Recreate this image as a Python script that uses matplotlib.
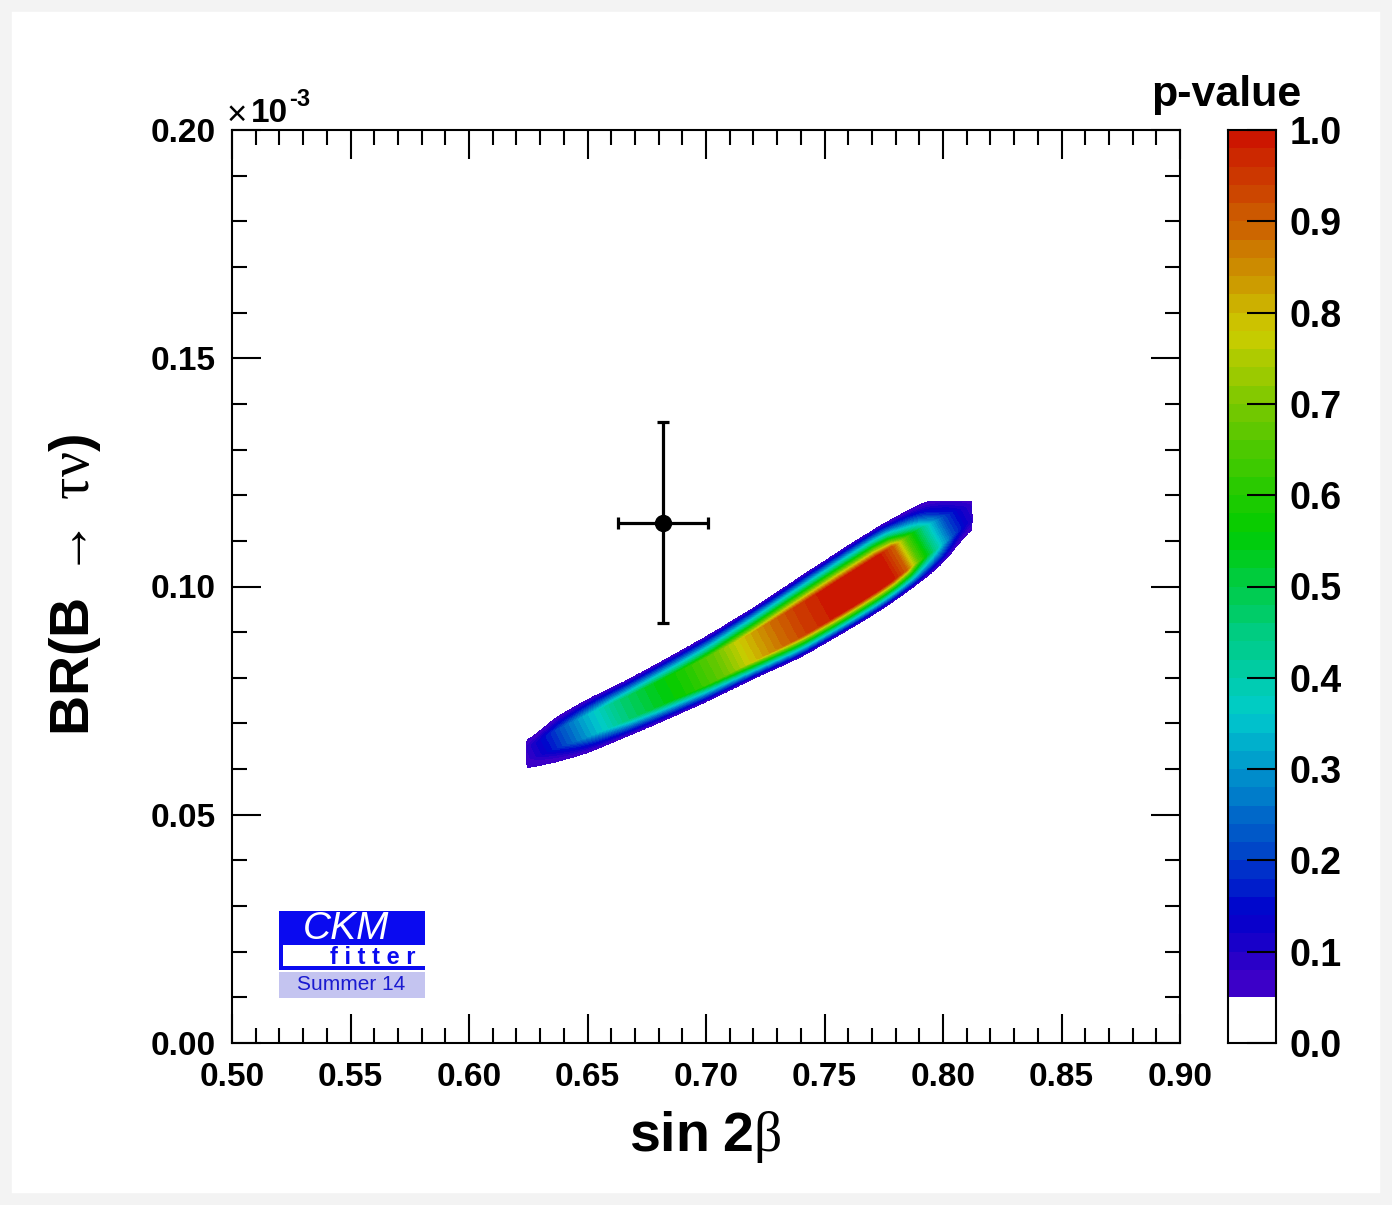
import numpy as np
import matplotlib
matplotlib.use("Agg")
import matplotlib.pyplot as plt
from matplotlib.colors import LinearSegmentedColormap
from matplotlib.ticker import MultipleLocator, FormatStrFormatter
from matplotlib.patches import Rectangle

plt.rcParams["font.family"] = ["Liberation Sans", "DejaVu Sans"]
plt.rcParams["mathtext.fontset"] = "custom"
plt.rcParams["mathtext.rm"] = "Liberation Serif"
plt.rcParams["mathtext.it"] = "Liberation Serif:italic"
plt.rcParams["mathtext.bf"] = "Liberation Sans:bold"
plt.rcParams["mathtext.sf"] = "Liberation Sans"

# ---- measurement (sin 2beta, BR in units of 1e-3) ----
meas_x, meas_xerr = 0.682, 0.019
meas_y, meas_yerr = 0.114, 0.022

# ---- fit band: edges of the p = 0.05 region, ridge line, ridge p-value ----
band_x     = [0.625, 0.635, 0.650, 0.665, 0.680, 0.700, 0.720, 0.740, 0.760, 0.775, 0.790, 0.800, 0.813]
band_upper = [0.0660, 0.0708, 0.0753, 0.0790, 0.0832, 0.0890, 0.0953, 0.1022, 0.1090, 0.1138, 0.1180, 0.1198, 0.1205]
band_lower = [0.0602, 0.0613, 0.0635, 0.0668, 0.0701, 0.0747, 0.0798, 0.0845, 0.0905, 0.0952, 0.1008, 0.1050, 0.1135]
band_ridge = [0.0632, 0.0662, 0.0695, 0.0729, 0.0764, 0.0810, 0.0863, 0.0920, 0.0982, 0.1032, 0.1090, 0.1122, 0.1167]

ridge_x = [0.625, 0.635, 0.643, 0.650, 0.657, 0.664, 0.678, 0.692, 0.706, 0.718, 0.730,
           0.740, 0.750, 0.760, 0.768, 0.776, 0.782, 0.787, 0.792, 0.797, 0.802, 0.808, 0.813]
ridge_p = [0.08, 0.17, 0.25, 0.32, 0.38, 0.45, 0.53, 0.59, 0.68, 0.79, 0.88,
           0.94, 0.98, 1.00, 1.00, 1.00, 0.90, 0.66, 0.50, 0.35, 0.22, 0.13, 0.08]
plateau = 0.40
fall_power = 1.15
tilt = 0.8          # iso-p lines lean across the band

# scan range of the fit
scan_x = (0.6245, 0.8122)
scan_y = (0.0600, 0.1187)

# ---- axes, ticks, palette ----
x_ticks = [0.50, 0.55, 0.60, 0.65, 0.70, 0.75, 0.80, 0.85, 0.90]
y_ticks = [0.00, 0.05, 0.10, 0.15, 0.20]
cbar_ticks = [0.0, 0.1, 0.2, 0.3, 0.4, 0.5, 0.6, 0.7, 0.8, 0.9, 1.0]
p_levels = [0.05, 0.08] + [round(0.10 + 0.02 * i, 2) for i in range(46)]
palette_pos = [0.05, 0.10, 0.14, 0.22, 0.30, 0.36, 0.45, 0.56, 0.68, 0.78, 0.88, 1.00]
palette_hex = ["#4800C8", "#2000C8", "#0000CC", "#0050C8", "#0096CC", "#00CCCC",
               "#00CC80", "#00CC00", "#66C800", "#CCCC00", "#CC7000", "#CC1000"]

W, H = 1392, 1205


def box(l, t, r, b):
    return [l / W, 1 - b / H, (r - l) / W, (b - t) / H]


def smooth(v, n):
    """Gaussian running mean along a 1-D profile (edge values held)."""
    k = np.exp(-0.5 * (np.arange(-3 * n, 3 * n + 1) / n) ** 2)
    k /= k.sum()
    vp = np.pad(v, 3 * n, mode="edge")
    return np.convolve(vp, k, mode="valid")


pal = LinearSegmentedColormap.from_list(
    "pval", [((p - palette_pos[0]) / (palette_pos[-1] - palette_pos[0]), c)
             for p, c in zip(palette_pos, palette_hex)])
mids = [(a + b) / 2 for a, b in zip(p_levels[:-1], p_levels[1:])]
band_colors = [pal((m - 0.05) / 0.95) for m in mids]

# ---- p-value field ----
xg = np.linspace(0.60, 0.84, 1000)
yg = np.linspace(0.04, 0.14, 1000)
up1 = smooth(np.interp(xg, band_x, band_upper), 14)
dn1 = smooth(np.interp(xg, band_x, band_lower), 14)
rc1 = smooth(np.interp(xg, band_x, band_ridge), 14)
X, Y = np.meshgrid(xg, yg)
up, dn, rc = up1[None, :], dn1[None, :], rc1[None, :]
# position along the band, measured across tilted iso-lines
S = X + tilt * (Y - rc)
rp = np.clip(np.interp(S, ridge_x, ridge_p), 0.051, 1.0)
u = np.where(Y >= rc, (Y - rc) / (up - rc), (rc - Y) / (rc - dn))
q = np.clip((u - plateau) / (1 - plateau), 0, None)
g = np.clip(1 - q, 0, None) ** fall_power
P = np.where(q < 1, 0.05 + (rp - 0.05) * g, 0.0)
inside = (X >= scan_x[0]) & (X <= scan_x[1]) & (Y >= scan_y[0]) & (Y <= scan_y[1])
P = np.where(inside, P, 0.0)

fig = plt.figure(figsize=(W / 100, H / 100), dpi=100)
fig.patch.set_facecolor("white")
fig.patches.append(Rectangle((0, 0), 1, 1, transform=fig.transFigure, fill=False,
                             edgecolor="#f3f3f3", lw=17, zorder=-5))

ax = fig.add_axes(box(232, 130, 1180, 1043))
levels_draw = list(p_levels)
levels_draw[0] = 0.0499
levels_draw[-1] = 1.0001
ax.contourf(X, Y, P, levels=levels_draw, colors=band_colors, antialiased=False)

ax.errorbar([meas_x], [meas_y], xerr=[meas_xerr], yerr=[meas_yerr], fmt="o",
            color="black", ms=11.5, lw=2.3, capsize=4, capthick=2.3, zorder=5)

ax.set_xlim(x_ticks[0], x_ticks[-1])
ax.set_ylim(y_ticks[0], y_ticks[-1])
ax.set_xticks(x_ticks)
ax.set_yticks(y_ticks)
ax.xaxis.set_minor_locator(MultipleLocator(0.01))
ax.yaxis.set_minor_locator(MultipleLocator(0.01))
ax.xaxis.set_major_formatter(FormatStrFormatter("%.2f"))
ax.yaxis.set_major_formatter(FormatStrFormatter("%.2f"))
ax.tick_params(which="both", direction="in", top=True, right=True, width=1.5)
ax.tick_params(which="major", length=21)
ax.tick_params(which="minor", length=11)
ax.tick_params(axis="x", which="major", labelsize=24, pad=14)
ax.tick_params(axis="y", which="major", labelsize=24, pad=12)
for lab in ax.get_xticklabels() + ax.get_yticklabels():
    lab.set_fontweight("bold")
for s in ax.spines.values():
    s.set_linewidth(1.5)

# exponent of the y scale
fig.text(227 / W, 1 - 115 / H, "\u00d7", fontsize=25, ha="left", va="center")
fig.text(251 / W, 1 - 113 / H, "10", fontsize=24, fontweight="bold", ha="left", va="center")
fig.text(289 / W, 1 - 100 / H, "-3", fontsize=17, fontweight="bold", ha="left", va="center")

fig.text(705 / W, 1 - 1137 / H, r"$\mathbf{sin\ 2}\mathrm{\beta}$", fontsize=40,
         ha="center", va="center")
fig.text(75 / W, 1 - 585 / H, r"$\mathbf{BR(B}\ \rightarrow\ \mathrm{\tau\nu}\mathbf{)}$",
         fontsize=40, rotation=90, ha="center", va="center")

# ---- colour scale ----
cax = fig.add_axes(box(1228, 130, 1276, 1043))
cax.axhspan(0.0, p_levels[0], color="white", lw=0)
for lo, hi, c in zip(p_levels[:-1], p_levels[1:], band_colors):
    cax.axhspan(lo, hi, color=c, lw=0)
cax.set_ylim(0, 1)
cax.set_xlim(0, 1)
cax.set_xticks([])
cax.yaxis.tick_right()
cax.set_yticks(cbar_ticks)
cax.yaxis.set_major_formatter(FormatStrFormatter("%.1f"))
cax.tick_params(axis="y", direction="in", length=21, width=1.5, labelsize=27, pad=10)
for lab in cax.get_yticklabels():
    lab.set_fontweight("bold")
for s in cax.spines.values():
    s.set_linewidth(1.5)
fig.text(1226 / W, 1 - 95 / H, "p-value", fontsize=31, fontweight="bold",
         ha="center", va="center")

# ---- CKMfitter badge ----
lax = fig.add_axes(box(279, 911, 425, 998))
lax.set_xlim(0, 146)
lax.set_ylim(87, 0)
lax.axis("off")
blue = "#0a0af0"
lax.add_patch(Rectangle((0, 0), 146, 34, color=blue, lw=0))
lax.add_patch(Rectangle((0, 34), 4, 25, color=blue, lw=0))
lax.add_patch(Rectangle((0, 55), 146, 4, color=blue, lw=0))
lax.add_patch(Rectangle((0, 61), 146, 26, color="#c4c4f0", lw=0))
lax.text(67, 18, "CKM", color="white", fontsize=28, fontstyle="italic",
         ha="center", va="center")
lax.text(137, 46, "f i t t e r", color=blue, fontsize=17, fontweight="bold",
         ha="right", va="center")
lax.text(72, 74, "Summer 14", color="#1a1ad0", fontsize=15, ha="center", va="center")

fig.savefig("out.png", dpi=100)
